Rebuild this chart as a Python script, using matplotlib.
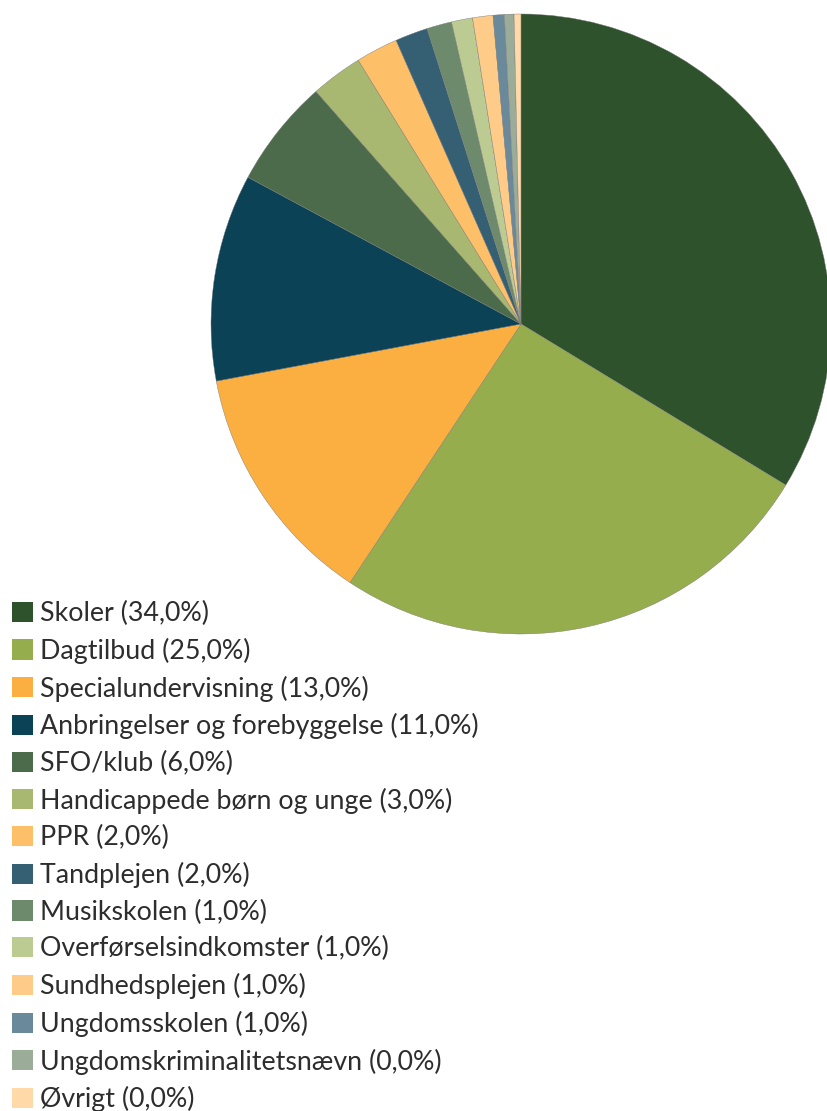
import matplotlib
matplotlib.use("Agg")
import matplotlib.pyplot as plt

# Andele (%) aflæst fra cirklens vinkler; etiketterne viser de afrundede tal
kategorier = [
    "Skoler", "Dagtilbud", "Specialundervisning", "Anbringelser og forebyggelse",
    "SFO/klub", "Handicappede børn og unge", "PPR", "Tandplejen", "Musikskolen",
    "Overførselsindkomster", "Sundhedsplejen", "Ungdomsskolen",
    "Ungdomskriminalitetsnævn", "Øvrigt",
]
andele = [33.7, 25.6, 12.75, 10.8, 5.65, 2.7, 2.2, 1.7, 1.3, 1.1, 1.06, 0.58, 0.5, 0.36]
viste_pct = [34.0, 25.0, 13.0, 11.0, 6.0, 3.0, 2.0, 2.0, 1.0, 1.0, 1.0, 1.0, 0.0, 0.0]
farver = [
    "#2E522B", "#96AD4E", "#FBAF40", "#0B4256", "#4B6B4A", "#A8B870", "#FDBF67",
    "#355F72", "#6E8A6C", "#BCCB92", "#FECB88", "#6A8A9C", "#9BAC98", "#FFD9A8",
]

W, H = 828, 1111
fig = plt.figure(figsize=(W / 100, H / 100), dpi=100)
ax = fig.add_axes([0, 0, 1, 1])

wedges, _ = ax.pie(
    andele, colors=farver, startangle=90, counterclock=False,
    center=(521, H - 324), radius=310,
    wedgeprops=dict(edgecolor="#7a7a7a", linewidth=0.3),
)
ax.set_aspect("auto")
ax.set_xlim(0, W)
ax.set_ylim(0, H)
ax.axis("off")

etiketter = [f"{k} ({p:.1f}%)".replace(".", ",") for k, p in zip(kategorier, viste_pct)]
leg = fig.legend(
    wedges, etiketter, loc="upper left",
    bbox_to_anchor=(12 / W, 1 - 601 / H),
    frameon=False, borderpad=0, borderaxespad=0,
    prop=dict(family="Lato", size=19.3),
    handlelength=0.78, handleheight=0.78, handletextpad=0.26,
    labelspacing=0.433,
)
for t in leg.get_texts():
    t.set_color("#2d2d2d")
for h in leg.legend_handles:
    h.set_linewidth(0)

fig.savefig("out.png", dpi=100)
